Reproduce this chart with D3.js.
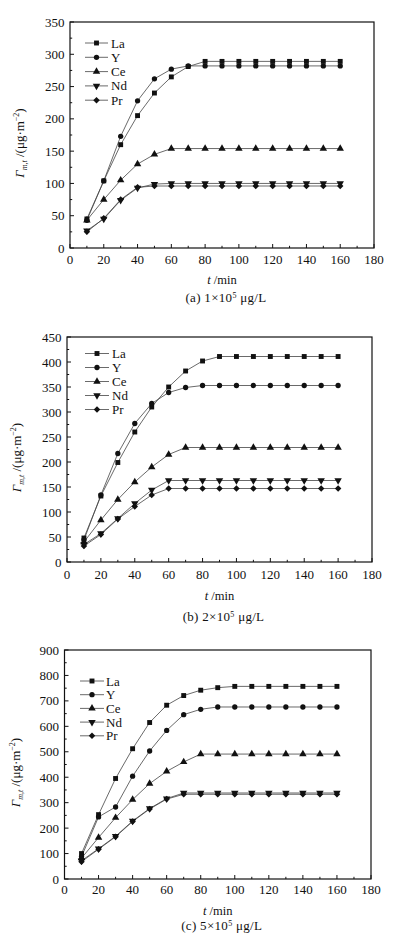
<!DOCTYPE html>
<html>
<head>
<meta charset="utf-8">
<script src="https://cdn.jsdelivr.net/npm/d3@7"></script>
<style>
  html, body { margin: 0; padding: 0; background: #ffffff; }
  svg { display: block; }
  text { font-family: "Liberation Serif", "Times New Roman", serif; fill: #111; }
</style>
</head>
<body>
<script>
// ---------------- DATA ----------------
const times = [10, 20, 30, 40, 50, 60, 70, 80, 90, 100, 110, 120, 130, 140, 150, 160];
const seriesNames = ["La", "Y", "Ce", "Nd", "Pr"];

// (a) 1x10^5 ug/L
const La_a = [45, 104, 160, 205, 240, 265, 281, 289, 289, 289, 289, 289, 289, 289, 289, 289];
const Y_a  = [43, 104, 173, 228, 262, 277, 282, 282, 282, 282, 282, 282, 282, 282, 282, 282];
const Ce_a = [43, 75, 105, 130, 145, 154, 154, 154, 154, 154, 154, 154, 154, 154, 154, 154];
const Nd_a = [27, 45, 74, 93, 99, 100, 100, 100, 100, 100, 100, 100, 100, 100, 100, 100];
const Pr_a = [25, 46, 75, 94, 96, 96, 96, 96, 96, 96, 96, 96, 96, 96, 96, 96];

// (b) 2x10^5 ug/L
const La_b = [48, 132, 199, 260, 310, 350, 382, 402, 411, 411, 411, 411, 411, 411, 411, 411];
const Y_b  = [44, 134, 217, 277, 317, 339, 349, 353, 353, 353, 353, 353, 353, 353, 353, 353];
const Ce_b = [40, 84, 125, 160, 190, 215, 229, 229, 229, 229, 229, 229, 229, 229, 229, 229];
const Nd_b = [35, 57, 87, 117, 144, 163, 163, 163, 163, 163, 163, 163, 163, 163, 163, 163];
const Pr_b = [32, 55, 86, 111, 134, 147, 147, 147, 147, 147, 147, 147, 147, 147, 147, 147];

// (c) 5x10^5 ug/L
const La_c = [100, 253, 395, 512, 615, 683, 721, 742, 752, 757, 757, 757, 757, 757, 757, 757];
const Y_c  = [88, 244, 283, 404, 503, 584, 646, 667, 676, 676, 676, 676, 676, 676, 676, 676];
const Ce_c = [82, 163, 241, 312, 375, 423, 460, 491, 491, 491, 491, 491, 491, 491, 491, 491];
const Nd_c = [72, 119, 168, 228, 277, 316, 338, 338, 338, 338, 338, 338, 338, 338, 338, 338];
const Pr_c = [68, 117, 166, 226, 275, 314, 333, 333, 333, 333, 333, 333, 333, 333, 333, 333];

const xTicks = [0, 20, 40, 60, 80, 100, 120, 140, 160, 180];
const yTicks_a = [0, 50, 100, 150, 200, 250, 300, 350];
const yTicks_b = [0, 50, 100, 150, 200, 250, 300, 350, 400, 450];
const yTicks_c = [0, 100, 200, 300, 400, 500, 600, 700, 800, 900];
const captions = ["(a) 1×10", "(b) 2×10", "(c) 5×10"];
const subs = ["m,t", "m,t", "m,t"];

// ---------------- LAYOUT ----------------
const W = 397, H = 944;
const svg = d3.select("body").append("svg").attr("width", W).attr("height", H);

const panels = [
  { series: [La_a, Y_a, Ce_a, Nd_a, Pr_a], yTicks: yTicks_a, yMinorStep: 25,
    left: 70, right: 374, top: 22, bottom: 248,
    legend: { x0: 85, x1: 108, tx: 111, y0: 43, dy: 14.3 },
    tickBase: 264, titleBase: 284, capBase: 302, ylabX: 24, caption: captions[0], sub: subs[0] },
  { series: [La_b, Y_b, Ce_b, Nd_b, Pr_b], yTicks: yTicks_b, yMinorStep: 25,
    left: 67, right: 372, top: 337, bottom: 562,
    legend: { x0: 85, x1: 109, tx: 112, y0: 353.5, dy: 14 },
    tickBase: 579, titleBase: 600, capBase: 621, ylabX: 21, caption: captions[1], sub: subs[1] },
  { series: [La_c, Y_c, Ce_c, Nd_c, Pr_c], yTicks: yTicks_c, yMinorStep: 50,
    left: 64.5, right: 371, top: 650, bottom: 879,
    legend: { x0: 80, x1: 104, tx: 106, y0: 681, dy: 13.7 },
    tickBase: 894, titleBase: 915, capBase: 930, ylabX: 20, caption: captions[2], sub: subs[2] }
];

const symbols = [
  { type: d3.symbolSquare, size: 24, rot: 0 },
  { type: d3.symbolCircle, size: 22, rot: 0 },
  { type: d3.symbolTriangle, size: 24, rot: 0 },
  { type: d3.symbolTriangle, size: 24, rot: 180 },
  { type: d3.symbolSquare, size: 21, rot: 45 }
];

function drawPanel(p) {
  const yMax = p.yTicks[p.yTicks.length - 1];
  const x = d3.scaleLinear().domain([0, 180]).range([p.left, p.right]);
  const y = d3.scaleLinear().domain([0, yMax]).range([p.bottom, p.top]);
  const g = svg.append("g");

  // frame
  g.append("rect").attr("x", p.left).attr("y", p.top)
    .attr("width", p.right - p.left).attr("height", p.bottom - p.top)
    .attr("fill", "none").attr("stroke", "#111").attr("stroke-width", 1.2);

  // x ticks (inward)
  const xMinor = d3.range(10, 180, 20);
  g.selectAll(null).data(xTicks).enter().append("line")
    .attr("x1", d => x(d)).attr("x2", d => x(d))
    .attr("y1", p.bottom).attr("y2", p.bottom - 4)
    .attr("stroke", "#111").attr("stroke-width", 1);
  g.selectAll(null).data(xMinor).enter().append("line")
    .attr("x1", d => x(d)).attr("x2", d => x(d))
    .attr("y1", p.bottom).attr("y2", p.bottom - 2.2)
    .attr("stroke", "#111").attr("stroke-width", 1);
  g.selectAll(null).data(xTicks).enter().append("text")
    .attr("x", d => x(d)).attr("y", p.tickBase)
    .attr("text-anchor", "middle").attr("font-size", 13)
    .text(d => d);

  // y ticks (inward)
  const yMinor = d3.range(p.yMinorStep, yMax, p.yMinorStep * 2);
  g.selectAll(null).data(p.yTicks).enter().append("line")
    .attr("x1", p.left).attr("x2", p.left + 4)
    .attr("y1", d => y(d)).attr("y2", d => y(d))
    .attr("stroke", "#111").attr("stroke-width", 1);
  g.selectAll(null).data(yMinor).enter().append("line")
    .attr("x1", p.left).attr("x2", p.left + 2.2)
    .attr("y1", d => y(d)).attr("y2", d => y(d))
    .attr("stroke", "#111").attr("stroke-width", 1);
  g.selectAll(null).data(p.yTicks).enter().append("text")
    .attr("x", p.left - 5.5).attr("y", d => y(d)).attr("dy", "0.35em")
    .attr("text-anchor", "end").attr("font-size", 13)
    .text(d => d);

  // series
  const line = d3.line().x((d, i) => x(times[i])).y(d => y(d));
  p.series.forEach((vals, si) => {
    g.append("path").datum(vals).attr("d", line)
      .attr("fill", "none").attr("stroke", "#444").attr("stroke-width", 0.8);
  });
  p.series.forEach((vals, si) => {
    const s = symbols[si];
    const sym = d3.symbol().type(s.type).size(s.size);
    g.selectAll(null).data(vals).enter().append("path")
      .attr("d", sym)
      .attr("transform", (d, i) => `translate(${x(times[i])},${y(d)}) rotate(${s.rot})`)
      .attr("fill", "#111");
  });

  // legend
  const L = p.legend;
  seriesNames.forEach((name, si) => {
    const ly = L.y0 + si * L.dy;
    g.append("line").attr("x1", L.x0).attr("x2", L.x1).attr("y1", ly).attr("y2", ly)
      .attr("stroke", "#444").attr("stroke-width", 0.8);
    const s = symbols[si];
    g.append("path").attr("d", d3.symbol().type(s.type).size(s.size))
      .attr("transform", `translate(${(L.x0 + L.x1) / 2},${ly}) rotate(${s.rot})`)
      .attr("fill", "#111");
    g.append("text").attr("x", L.tx).attr("y", ly).attr("dy", "0.35em")
      .attr("font-size", 13).text(name);
  });

  // x title
  const xt = g.append("text").attr("x", (p.left + p.right) / 2).attr("y", p.titleBase)
    .attr("text-anchor", "middle").attr("font-size", 12.5);
  xt.append("tspan").attr("font-style", "italic").text("t");
  xt.append("tspan").text(" /min");

  // caption
  const cap = g.append("text").attr("x", (p.left + p.right) / 2 + 4).attr("y", p.capBase)
    .attr("text-anchor", "middle").attr("font-size", 13).attr("letter-spacing", 0.3);
  cap.append("tspan").text(p.caption);
  cap.append("tspan").attr("dy", -4).attr("font-size", 8).text("5");
  cap.append("tspan").attr("dy", 4).text(" μg/L");

  // y title
  const cy = (p.top + p.bottom) / 2 + 8;
  const yt = g.append("text").attr("transform", `translate(${p.ylabX},${cy}) rotate(-90)`)
    .attr("text-anchor", "middle").attr("font-size", 13);
  yt.append("tspan").attr("font-style", "italic").text("Γ");
  yt.append("tspan").attr("font-style", "italic").attr("font-size", 8).attr("dy", 3).text(p.sub);
  yt.append("tspan").attr("dy", -3).text(" /(μg·m");
  yt.append("tspan").attr("font-size", 8).attr("dy", -5).text("−2");
  yt.append("tspan").attr("dy", 5).text(")");
}

panels.forEach(drawPanel);
</script>
</body>
</html>
